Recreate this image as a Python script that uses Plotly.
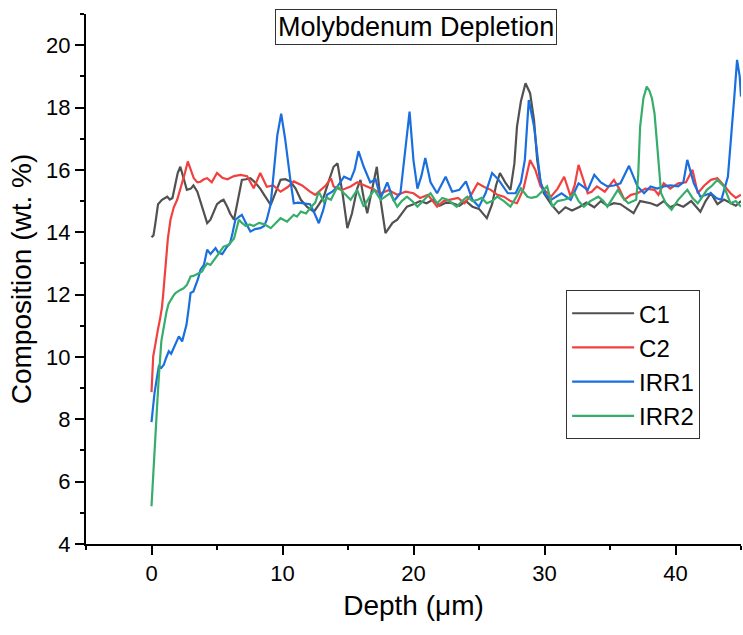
import plotly.graph_objects as go

# Depth profiles of Mo content (wt. %) for control (C) and irradiated (IRR) samples
c1_depth = [0.0, 0.15, 0.3, 0.5, 0.8, 1.0, 1.2, 1.4, 1.6, 1.8, 2.0, 2.2, 2.4, 2.7, 3.0, 3.2, 3.5, 3.8, 4.0, 4.25,
            4.5, 4.8, 5.0, 5.3, 5.5, 5.8, 6.0, 6.3, 6.6, 6.9, 7.2, 7.55, 7.9, 8.3, 8.6, 9.1, 9.5, 9.85, 10.2, 10.6,
            11.0, 11.4, 11.9, 12.4, 12.8, 13.15, 13.5, 13.9, 14.2, 14.6, 14.95, 15.3, 15.7, 15.95, 16.2, 16.47, 16.8,
            17.2, 17.5, 17.86, 18.4, 18.76, 19.1, 19.5, 20.0, 20.5, 21.0, 21.5, 22.0, 22.5, 23.0, 23.5, 24.0, 24.5,
            25.0, 25.6, 26.0, 26.3, 26.6, 27.0, 27.4, 27.7, 27.9, 28.2, 28.55, 28.9, 29.2, 29.44, 29.7, 29.95, 30.5,
            31.1, 31.6, 32.1, 32.7, 33.2, 33.8, 34.3, 34.8, 35.3, 35.8, 36.3, 36.8, 37.3, 38.1, 38.6, 39.1, 39.6,
            40.1, 40.6, 41.2, 41.9, 42.3, 42.7, 43.2, 43.7, 44.2, 44.6, 45.0]
c1_comp = [13.84, 13.9, 14.3, 14.9, 15.04, 15.1, 15.14, 15.05, 15.1, 15.5, 15.9, 16.1, 15.8, 15.36, 15.4, 15.5, 15.3,
           14.9, 14.6, 14.29, 14.4, 14.7, 14.9, 15.0, 15.04, 14.8, 14.6, 14.4, 15.1, 15.68, 15.7, 15.73, 15.6, 15.4,
           15.2, 14.88, 15.3, 15.68, 15.7, 15.63, 15.4, 15.04, 14.8, 14.66, 14.9, 15.14, 15.6, 16.1, 16.21, 15.2,
           14.13, 14.6, 15.4, 15.68, 15.1, 14.61, 15.3, 16.1, 15.0, 13.97, 14.3, 14.4, 14.6, 14.82, 14.9, 15.0,
           14.93, 15.05, 14.85, 14.95, 14.93, 14.85, 15.0, 14.82, 14.75, 14.45, 14.9, 15.5, 15.9, 15.6, 15.36, 16.2,
           17.39, 18.2, 18.78, 18.46, 17.6, 16.32, 15.6, 15.25, 14.9, 14.61, 14.8, 14.7, 14.82, 14.95, 14.8, 15.0,
           14.85, 14.93, 14.9, 14.75, 14.61, 15.0, 14.93, 14.85, 15.0, 14.8, 14.9, 14.82, 15.0, 14.66, 15.0, 15.25,
           14.9, 15.05, 14.93, 14.85, 15.0]

c2_depth = [0.0, 0.05, 0.13, 0.25, 0.38, 0.5, 0.64, 0.8, 0.9, 1.0, 1.07, 1.25, 1.45, 1.7, 1.96, 2.15, 2.34, 2.55,
            2.77, 3.0, 3.23, 3.5, 3.74, 4.0, 4.25, 4.6, 5.0, 5.4, 5.8, 6.3, 6.8, 7.3, 7.8, 8.3, 8.8, 9.3, 9.85, 10.4,
            10.86, 11.5, 12.1, 12.5, 12.9, 13.3, 13.7, 13.9, 14.5, 15.2, 15.7, 16.2, 16.8, 17.5, 18.1, 18.76, 19.4,
            20.0, 20.5, 21.1, 21.5, 21.8, 22.3, 22.85, 23.4, 23.9, 24.4, 24.9, 25.4, 25.9, 26.4, 26.9, 27.4, 27.9,
            28.4, 28.9, 29.3, 29.7, 30.1, 30.5, 31.0, 31.5, 32.0, 32.3, 32.6, 32.9, 33.3, 33.6, 34.0, 34.6, 35.3,
            35.7, 36.1, 36.6, 37.1, 37.7, 38.4, 38.7, 39.1, 39.6, 40.2, 40.8, 41.3, 41.7, 42.2, 42.7, 43.2, 43.7,
            44.2, 44.6, 45.0]
c2_comp = [8.87, 9.6, 10.02, 10.3, 10.66, 10.9, 11.19, 11.6, 12.05, 12.5, 13.0, 13.8, 14.4, 14.8, 15.04, 15.3, 15.57,
           15.9, 16.27, 16.0, 15.73, 15.6, 15.62, 15.7, 15.73, 15.6, 15.9, 15.75, 15.7, 15.8, 15.84, 15.8, 15.41,
           15.9, 15.46, 15.5, 15.3, 15.45, 15.63, 15.5, 15.3, 15.2, 15.36, 15.5, 15.73, 15.47, 15.35, 15.47, 15.6,
           15.52, 15.4, 15.25, 15.35, 15.2, 15.3, 15.25, 15.1, 15.2, 15.0, 14.82, 15.0, 15.04, 15.1, 14.93, 15.2,
           15.57, 15.45, 15.36, 15.2, 15.14, 15.0, 14.93, 15.4, 16.32, 16.0, 15.47, 15.3, 15.14, 15.4, 15.78, 15.14,
           15.5, 16.16, 15.8, 15.25, 15.3, 15.47, 15.3, 15.68, 15.4, 15.04, 15.2, 15.25, 15.4, 15.36, 15.2, 15.57,
           15.4, 15.57, 15.6, 16.0, 15.25, 15.5, 15.68, 15.73, 15.5, 15.25, 15.1, 15.2]

irr1_depth = [0.0, 0.1, 0.23, 0.4, 0.56, 0.75, 0.94, 1.1, 1.32, 1.5, 1.7, 1.9, 2.09, 2.34, 2.5, 2.67, 2.85, 2.98,
              3.2, 3.36, 3.55, 3.74, 4.0, 4.25, 4.5, 4.7, 4.89, 5.1, 5.4, 5.7, 6.0, 6.2, 6.4, 6.7, 6.9, 7.2, 7.55,
              7.9, 8.3, 8.6, 8.8, 9.1, 9.35, 9.6, 9.9, 10.2, 10.6, 10.86, 11.2, 11.6, 12.1, 12.45, 12.77, 13.1, 13.4,
              13.8, 14.2, 14.7, 15.2, 15.5, 15.8, 16.2, 16.7, 17.1, 17.5, 18.0, 18.5, 19.0, 19.4, 19.7, 20.0, 20.3,
              20.6, 20.9, 21.3, 21.8, 22.45, 22.95, 23.5, 24.0, 24.5, 25.0, 25.5, 26.0, 26.5, 27.2, 27.8, 28.2, 28.5,
              28.8, 29.2, 29.7, 30.1, 30.5, 31.3, 32.0, 32.6, 33.3, 33.8, 34.3, 34.8, 35.3, 35.8, 36.45, 37.1, 37.6,
              38.1, 38.6, 39.1, 39.6, 40.2, 40.6, 40.9, 41.4, 41.9, 42.3, 42.7, 43.1, 43.5, 44.0, 44.3, 44.5, 44.7,
              44.9, 45.0]
irr1_comp = [7.91, 8.4, 8.84, 9.3, 9.7, 9.65, 9.75, 9.95, 10.18, 10.1, 10.3, 10.5, 10.66, 10.5, 10.8, 11.03, 11.6,
             12.05, 12.1, 12.26, 12.5, 12.8, 12.95, 13.44, 13.3, 13.4, 13.49, 13.35, 13.3, 13.5, 13.65, 14.0, 14.4,
             14.5, 14.56, 14.3, 14.02, 14.1, 14.13, 14.2, 14.4, 14.9, 16.0, 17.1, 17.8, 17.0, 15.68, 14.93, 14.95,
             14.93, 14.9, 14.6, 14.29, 14.7, 15.2, 15.3, 15.47, 15.78, 15.68, 16.0, 16.6, 16.1, 15.6, 15.7, 15.1,
             15.6, 15.0, 15.25, 16.86, 17.87, 16.3, 15.4, 15.8, 16.38, 15.6, 15.25, 15.78, 15.3, 15.36, 15.63, 15.04,
             14.82, 15.25, 15.9, 15.68, 15.25, 15.25, 15.6, 16.32, 18.24, 17.4, 15.6, 15.2, 15.04, 15.25, 15.04,
             15.57, 15.36, 15.84, 15.6, 15.47, 15.5, 15.57, 16.13, 15.47, 15.25, 15.47, 15.4, 15.47, 15.5, 15.47,
             15.6, 16.32, 15.57, 15.14, 15.2, 15.25, 15.1, 15.04, 15.78, 17.2, 18.4, 19.53, 19.0, 18.35]

irr2_depth = [0.0, 0.08, 0.18, 0.3, 0.44, 0.55, 0.64, 0.75, 0.9, 1.02, 1.15, 1.3, 1.45, 1.65, 1.83, 2.0, 2.2, 2.45,
              2.7, 2.85, 2.98, 3.2, 3.36, 3.6, 3.87, 4.0, 4.25, 4.5, 4.76, 5.1, 5.5, 5.9, 6.3, 6.5, 6.67, 6.9, 7.2,
              7.5, 7.8, 8.2, 8.6, 9.1, 9.5, 9.85, 10.35, 10.86, 11.1, 11.4, 11.8, 12.1, 12.5, 12.77, 13.15, 13.4,
              13.7, 14.2, 14.7, 15.2, 15.7, 16.2, 16.6, 17.0, 17.5, 18.2, 18.76, 19.1, 19.5, 19.9, 20.3, 20.8, 21.3,
              21.8, 22.2, 22.6, 23.0, 23.3, 23.7, 24.1, 24.5, 24.9, 25.2, 25.6, 26.0, 26.4, 26.9, 27.4, 27.8, 28.2,
              28.7, 29.0, 29.4, 29.8, 30.2, 30.6, 31.0, 31.5, 31.9, 32.3, 32.6, 33.0, 33.5, 34.1, 34.5, 34.8, 35.2,
              35.6, 36.0, 36.4, 37.0, 37.15, 37.3, 37.55, 37.8, 38.0, 38.2, 38.4, 38.6, 38.9, 39.3, 39.7, 40.2, 40.9,
              41.3, 41.7, 42.0, 42.4, 42.8, 43.2, 43.7, 44.2, 44.6, 45.0]
irr2_comp = [5.21, 5.9, 6.7, 7.6, 8.52, 9.3, 9.9, 10.5, 10.87, 11.2, 11.46, 11.7, 11.83, 11.95, 12.05, 12.1, 12.15,
             12.2, 12.31, 12.45, 12.58, 12.6, 12.63, 12.7, 12.74, 12.85, 13.0, 12.95, 13.12, 13.3, 13.54, 13.6, 13.8,
             14.1, 14.4, 14.3, 14.2, 14.25, 14.2, 14.3, 14.26, 14.13, 14.3, 14.45, 14.34, 14.56, 14.5, 14.66, 14.6,
             14.77, 14.95, 15.3, 14.98, 15.1, 15.04, 15.47, 15.25, 15.04, 15.36, 14.82, 15.1, 15.36, 15.04, 15.25,
             14.82, 15.0, 15.14, 15.0, 14.82, 15.04, 15.25, 14.93, 15.1, 15.04, 14.9, 14.82, 15.0, 15.14, 15.0,
             15.04, 15.1, 14.93, 15.0, 15.14, 15.0, 14.82, 15.1, 15.41, 15.14, 15.1, 15.14, 15.3, 15.47, 14.82,
             15.0, 15.04, 15.1, 15.25, 15.0, 14.82, 15.0, 15.14, 15.0, 14.82, 15.1, 15.36, 15.1, 14.93, 15.04, 15.8,
             17.39, 18.3, 18.67, 18.55, 18.3, 17.8, 16.8, 15.25, 14.9, 14.72, 15.04, 15.36, 15.1, 14.93, 15.1, 15.36,
             15.5, 15.68, 15.47, 14.93, 15.0, 14.82]

series_names = ["C1", "C2", "IRR1", "IRR2"]
series_colors = ["#515151", "#F14040", "#1A6FDF", "#37AD6B"]
series_data = [(c1_depth, c1_comp), (c2_depth, c2_comp), (irr1_depth, irr1_comp), (irr2_depth, irr2_comp)]

for name, (d, c) in zip(series_names, series_data):
    assert len(d) == len(c), (name, len(d), len(c))

FONT = "Arial, Liberation Sans, sans-serif"

fig = go.Figure()
for name, color, (d, c) in zip(series_names, series_colors, series_data):
    fig.add_trace(go.Scatter(x=d, y=c, mode="lines", name=name,
                             line=dict(color=color, width=2.2)))

axis_common = dict(
    showline=True, linecolor="black", linewidth=2, mirror=False,
    showgrid=False, zeroline=False,
    ticks="outside", ticklen=9, tickwidth=2, tickcolor="black",
    tickfont=dict(family=FONT, size=22, color="black"),
)
minor_common = dict(ticks="outside", ticklen=4, tickwidth=2, tickcolor="black", tick0=0)

fig.update_layout(
    width=743, height=635,
    margin=dict(l=86, r=2, t=14, b=91),
    paper_bgcolor="white", plot_bgcolor="white",
    font=dict(family=FONT, color="black"),
    xaxis=dict(range=[-5, 45], dtick=10, tick0=0, minor=dict(dtick=5, **minor_common),
               title=dict(text="Depth (\u03bcm)", font=dict(family=FONT, size=28), standoff=10),
               **axis_common),
    yaxis=dict(range=[4, 21], dtick=2, tick0=0, minor=dict(dtick=1, **minor_common),
               title=dict(text="Composition (wt. %)", font=dict(family=FONT, size=28), standoff=6),
               **axis_common),
    legend=dict(x=0.733, y=0.479, xanchor="left", yanchor="top",
                bordercolor="#333333", borderwidth=1, bgcolor="white",
                font=dict(family=FONT, size=24, color="black"),
                itemwidth=62, tracegroupgap=0),
    showlegend=True,
    annotations=[dict(text="Molybdenum Depletion", xref="paper", yref="paper",
                      x=0.504, y=0.975, xanchor="center", yanchor="middle", showarrow=False,
                      font=dict(family=FONT, size=27, color="black"),
                      bordercolor="#333333", borderwidth=1, borderpad=2, bgcolor="white")],
)

fig.write_html("out.html")
